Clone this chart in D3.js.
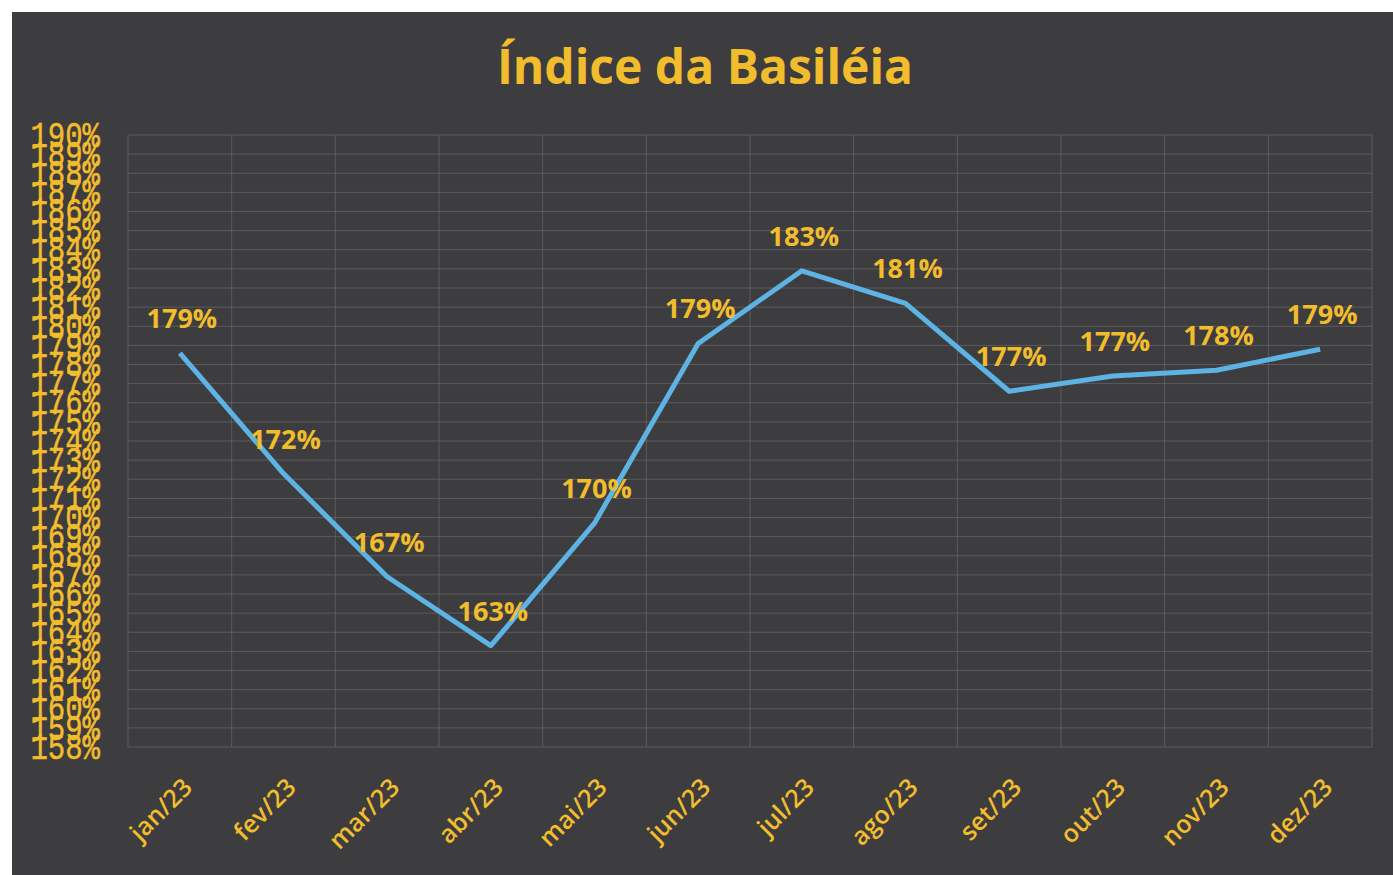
<!DOCTYPE html>
<meta charset="utf-8">
<style>
 body { margin: 0; background: #fff; }
 svg { display: block; }
 .title { font-family: "Open Sans", sans-serif; font-weight: 700; font-size: 48px; fill: #f2bd2c; }
 .ylab { font-family: "Liberation Mono", monospace; font-size: 29px; fill: #f2bd2c; stroke: #f2bd2c; stroke-width: 0.4; }
 .xlab { font-family: "Open Sans", sans-serif; font-weight: 600; font-size: 25px; fill: #f2bd2c; }
 .dlab { font-family: "Open Sans", sans-serif; font-weight: 700; font-size: 27px; fill: #f2bd2c; }
 .grid line { stroke: #6a686d; stroke-width: 1; opacity: 0.7; }
</style>
<body>
<div id="chart"></div>
<script src="https://cdn.jsdelivr.net/npm/d3@7/dist/d3.min.js"></script>
<script>
(function(){

  var months = ["jan/23", "fev/23", "mar/23", "abr/23", "mai/23", "jun/23",
                "jul/23", "ago/23", "set/23", "out/23", "nov/23", "dez/23"];
  var basileia = [1.786, 1.723, 1.669, 1.633, 1.697, 1.791,
                  1.829, 1.812, 1.766, 1.774, 1.777, 1.788];
  var yTicks = d3.range(158, 191).map(function(v) { return v / 100; });

  var width = 1393, height = 875;
  var m = { left: 128, right: 1372, top: 135, bottom: 747 };

  var svg = d3.select("#chart").append("svg")
      .attr("width", width)
      .attr("height", height);

  svg.append("rect")
      .attr("x", 12).attr("y", 12)
      .attr("width", width - 12).attr("height", height - 12)
      .attr("fill", "#3d3c3f");

  var x = d3.scaleBand().domain(months).range([m.left, m.right]);
  var y = d3.scaleLinear().domain([1.58, 1.90]).range([m.bottom, m.top]);
  var pct = d3.format(".0%");

  svg.append("text")
      .attr("class", "title")
      .attr("x", 705).attr("y", 84)
      .attr("text-anchor", "middle")
      .text("Índice da Basiléia");

  // grid
  var grid = svg.append("g").attr("class", "grid");
  grid.selectAll("line.h").data(yTicks).enter().append("line")
      .attr("class", "h")
      .attr("x1", m.left).attr("x2", m.right)
      .attr("y1", function(d) { return y(d); })
      .attr("y2", function(d) { return y(d); });
  var bounds = months.map(function(d) { return x(d); }).concat([m.right]);
  grid.selectAll("line.v").data(bounds).enter().append("line")
      .attr("class", "v")
      .attr("x1", function(d) { return d; }).attr("x2", function(d) { return d; })
      .attr("y1", m.top).attr("y2", m.bottom);

  // y axis labels (stretched tall, they overlap like the original)
  var yAxis = d3.axisLeft(y).tickValues(yTicks).tickFormat(pct).tickSize(0).tickPadding(0);
  var gy = svg.append("g").attr("transform", "translate(100,0)").call(yAxis);
  gy.select(".domain").remove();
  gy.attr("font-family", null).attr("font-size", null);
  gy.selectAll("text").attr("class", "ylab").attr("fill", null)
      .attr("x", 0).attr("dy", "0.35em")
      .attr("transform", "scale(1,1.25)");
  gy.selectAll(".tick").attr("transform", function(d) { return "translate(0," + (y(d) - 1) + ")"; });

  // x axis labels
  var xAxis = d3.axisBottom(x).tickSize(0).tickPadding(0);
  var gx = svg.append("g").attr("transform", "translate(0," + m.bottom + ")").call(xAxis);
  gx.select(".domain").remove();
  gx.attr("font-family", null).attr("font-size", null);
  gx.selectAll("text")
      .attr("class", "xlab").attr("fill", null)
      .attr("text-anchor", "end")
      .attr("dy", null).attr("y", 0)
      .attr("transform", "translate(14,42) rotate(-45)");

  // line
  var line = d3.line()
      .x(function(d, i) { return x(months[i]) + x.bandwidth() / 2; })
      .y(function(d) { return y(d); });

  svg.append("path")
      .datum(basileia)
      .attr("d", line)
      .attr("fill", "none")
      .attr("stroke", "#5db3e4")
      .attr("stroke-width", 5)
      .attr("stroke-linejoin", "round");

  svg.selectAll("text.dlab").data(basileia).enter().append("text")
      .attr("class", "dlab")
      .attr("x", function(d, i) { return x(months[i]) + x.bandwidth() / 2 + 2; })
      .attr("y", function(d) { return y(d) - 25; })
      .attr("text-anchor", "middle")
      .text(function(d) { return pct(d); });

})();
</script>
</body>
